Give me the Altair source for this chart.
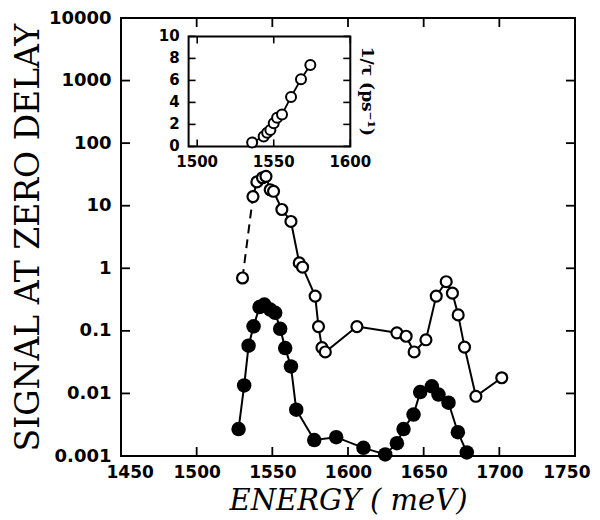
import altair as alt
import pandas as pd

# ---------------- data ----------------
energy_open = [1530.3, 1537.2, 1539.8, 1543.5, 1545.8, 1548.6, 1550.8, 1556.3, 1562.3,
               1567.8, 1570.0, 1578.3, 1580.5, 1582.8, 1585.0, 1605.9, 1632.3, 1638.4,
               1643.7, 1651.5, 1658.3, 1664.9, 1669.0, 1672.8, 1677.0, 1684.5, 1701.6]
signal_open = [0.70, 14.0, 24.0, 28.0, 29.5, 18.0, 17.0, 8.7, 5.6,
               1.22, 1.04, 0.36, 0.117, 0.054, 0.046, 0.117, 0.093, 0.082,
               0.046, 0.072, 0.36, 0.61, 0.40, 0.18, 0.055, 0.009, 0.0178]

energy_filled = [1527.7, 1531.4, 1534.3, 1537.6, 1541.5, 1544.7, 1548.6, 1551.9, 1555.2,
                 1558.5, 1562.3, 1565.8, 1577.7, 1592.2, 1610.2, 1624.6, 1632.3, 1636.7,
                 1643.3, 1647.7, 1655.4, 1659.8, 1666.4, 1672.6, 1678.5]
signal_filled = [0.0027, 0.0134, 0.058, 0.118, 0.24, 0.263, 0.219, 0.194, 0.108,
                 0.053, 0.027, 0.0055, 0.0018, 0.002, 0.00135, 0.00106, 0.0016, 0.0027,
                 0.0046, 0.0105, 0.013, 0.0096, 0.0071, 0.0024, 0.00114]

inset_energy = [1535.9, 1543.4, 1545.7, 1547.8, 1550.0, 1552.2, 1555.4, 1561.3, 1567.8, 1573.9]
inset_rate = [0.36, 0.9, 1.25, 1.5, 2.1, 2.6, 2.9, 4.5, 6.1, 7.4]

x_ticks = [1450, 1500, 1550, 1600, 1650, 1700, 1750]
y_ticks = [0.001, 0.01, 0.1, 1, 10, 100, 1000, 10000]
inset_x_ticks = [1500, 1550, 1600]
inset_y_ticks = [0, 2, 4, 6, 8, 10]
inset_x_domain = [1494.4, 1600]

# ---------------- layout ----------------
W, H = 454, 438
TK = 9            # main tick length, px
ITK = 7           # inset tick length, px
INSET_X_RANGE = [67.6, 229.3]
INSET_Y_RANGE = [128.4, 18.4]
LABEL_FONT = "DejaVu Sans"
TITLE_FONT = "DejaVu Serif"

xs = alt.Scale(domain=[x_ticks[0], x_ticks[-1]], nice=False, zero=False)
ys = alt.Scale(type="log", domain=[y_ticks[0], y_ticks[-1]], nice=False)

x_axis = alt.Axis(values=x_ticks, ticks=False, domain=False, grid=False, format="d",
                  labelFlush=True, labelFlushOffset=15, labelOverlap=False,
                  labelFont=LABEL_FONT, labelFontWeight="bold", labelFontSize=17,
                  labelColor="black", labelPadding=8,
                  title="ENERGY ( meV)", titleFont=TITLE_FONT, titleFontStyle="italic",
                  titleFontWeight="normal", titleFontSize=29, titleColor="black",
                  titleBaseline="alphabetic", titleY=53)
y_axis = alt.Axis(values=y_ticks, ticks=False, domain=False, grid=False, format="~g",
                  labelFlush=False, labelOverlap=False,
                  labelFont=LABEL_FONT, labelFontWeight="bold", labelFontSize=18,
                  labelColor="black", labelPadding=10,
                  title="SIGNAL AT ZERO DELAY", titleFont=TITLE_FONT,
                  titleFontWeight="normal", titleFontSize=33, titleColor="black",
                  titlePadding=3)

df_open = pd.DataFrame({"E": energy_open, "S": signal_open})
df_fill = pd.DataFrame({"E": energy_filled, "S": signal_filled})
df_ins = pd.DataFrame({"E": inset_energy, "R": inset_rate})

enc_x = alt.X("E:Q", scale=xs, axis=x_axis)
enc_y = alt.Y("S:Q", scale=ys, axis=y_axis)

# ---------------- inward frame ticks as short two-point line segments ----------------
# tick length converted from pixels to data units of each scale
dx_main = TK * (x_ticks[-1] - x_ticks[0]) / W
fy_main = 10 ** (TK * 7 / H)          # 7 decades over the plot height
rows = []
for i, v in enumerate(x_ticks):
    rows += [{"E": v, "S": y_ticks[0], "k": f"b{i}"}, {"E": v, "S": y_ticks[0] * fy_main, "k": f"b{i}"},
             {"E": v, "S": y_ticks[-1], "k": f"t{i}"}, {"E": v, "S": y_ticks[-1] / fy_main, "k": f"t{i}"}]
for i, v in enumerate(y_ticks):
    rows += [{"E": x_ticks[0], "S": v, "k": f"l{i}"}, {"E": x_ticks[0] + dx_main, "S": v, "k": f"l{i}"},
             {"E": x_ticks[-1], "S": v, "k": f"r{i}"}, {"E": x_ticks[-1] - dx_main, "S": v, "k": f"r{i}"}]
df_main_ticks = pd.DataFrame(rows)
main_ticks = alt.Chart(df_main_ticks).mark_line(color="black", strokeWidth=1.8).encode(
    x=enc_x, y=enc_y, detail="k:N")

open_dash = alt.Chart(df_open.iloc[:2]).mark_line(
    color="black", strokeWidth=2, strokeDash=[9, 6]).encode(x=enc_x, y=enc_y)
open_line = alt.Chart(df_open.iloc[1:]).mark_line(
    color="black", strokeWidth=2).encode(x=enc_x, y=enc_y)
open_pts = alt.Chart(df_open).mark_point(
    shape="circle", fill="white", stroke="black", strokeWidth=2.2, size=120,
    opacity=1, fillOpacity=1).encode(x=enc_x, y=enc_y)
fill_line = alt.Chart(df_fill).mark_line(
    color="black", strokeWidth=2).encode(x=enc_x, y=enc_y)
fill_pts = alt.Chart(df_fill).mark_circle(
    color="black", size=210, opacity=1).encode(x=enc_x, y=enc_y)

main = alt.layer(open_dash, open_line, fill_line, open_pts, fill_pts, main_ticks)

# ---------------- inset ----------------
ixs = alt.Scale(domain=inset_x_domain, range=INSET_X_RANGE, nice=False, zero=False)
iys = alt.Scale(domain=[inset_y_ticks[0], inset_y_ticks[-1]], range=INSET_Y_RANGE,
                nice=False, zero=False)
IX = alt.X("E:Q", scale=ixs, axis=None)
IY = alt.Y("R:Q", scale=iys, axis=None)

df_box = pd.DataFrame({"x0": [inset_x_domain[0]], "x1": [inset_x_domain[-1]],
                       "y0": [inset_y_ticks[0]], "y1": [inset_y_ticks[-1]],
                       "ym": [(inset_y_ticks[0] + inset_y_ticks[-1]) / 2]})
box = alt.Chart(df_box).mark_rect(fill="white", stroke="black", strokeWidth=2).encode(
    x=alt.X("x0:Q", scale=ixs, axis=None), x2="x1:Q",
    y=alt.Y("y0:Q", scale=iys, axis=None), y2="y1:Q")

dx_in = ITK * (inset_x_domain[1] - inset_x_domain[0]) / (INSET_X_RANGE[1] - INSET_X_RANGE[0])
dy_in = ITK * (inset_y_ticks[-1] - inset_y_ticks[0]) / (INSET_Y_RANGE[0] - INSET_Y_RANGE[1])
irows = []
for i, v in enumerate(inset_y_ticks):
    irows += [{"E": inset_x_domain[0], "R": v, "k": f"l{i}"},
              {"E": inset_x_domain[0] + dx_in, "R": v, "k": f"l{i}"},
              {"E": inset_x_domain[1], "R": v, "k": f"r{i}"},
              {"E": inset_x_domain[1] - dx_in, "R": v, "k": f"r{i}"}]
for i, v in enumerate(inset_x_ticks):
    irows += [{"E": v, "R": inset_y_ticks[0], "k": f"b{i}"},
              {"E": v, "R": inset_y_ticks[0] + dy_in, "k": f"b{i}"},
              {"E": v, "R": inset_y_ticks[-1], "k": f"t{i}"},
              {"E": v, "R": inset_y_ticks[-1] - dy_in, "k": f"t{i}"}]
df_inset_ticks = pd.DataFrame(irows)
inset_ticks = alt.Chart(df_inset_ticks).mark_line(color="black", strokeWidth=1.6).encode(
    x=IX, y=IY, detail="k:N")

df_iyt = pd.DataFrame({"t": inset_y_ticks, "xl": inset_x_domain[0]})
df_ixt = pd.DataFrame({"t": inset_x_ticks, "yb": inset_y_ticks[0]})
iy_labels = alt.Chart(df_iyt).mark_text(
    align="right", baseline="middle", dx=-9, font=LABEL_FONT, fontWeight="bold",
    fontSize=15, color="black").encode(
    x=alt.X("xl:Q", scale=ixs, axis=None), y=alt.Y("t:Q", scale=iys, axis=None),
    text=alt.Text("t:Q", format="d"))
ix_labels = alt.Chart(df_ixt).mark_text(
    align="center", baseline="top", dy=9, font=LABEL_FONT, fontWeight="bold",
    fontSize=15, color="black").encode(
    x=alt.X("t:Q", scale=ixs, axis=None), y=alt.Y("yb:Q", scale=iys, axis=None),
    text=alt.Text("t:Q", format="d"))
i_title = alt.Chart(df_box).mark_text(
    angle=90, align="center", baseline="middle", dy=-17, font=TITLE_FONT,
    fontWeight="bold", fontSize=17, color="black").encode(
    x=alt.X("x1:Q", scale=ixs, axis=None), y=alt.Y("ym:Q", scale=iys, axis=None),
    text=alt.value("1/τ (ps⁻¹)"))

i_line = alt.Chart(df_ins).mark_line(color="black", strokeWidth=1.8).encode(x=IX, y=IY)
i_pts = alt.Chart(df_ins).mark_point(
    shape="circle", fill="white", stroke="black", strokeWidth=2, size=100,
    opacity=1, fillOpacity=1).encode(x=IX, y=IY)

inset = alt.layer(box, inset_ticks, iy_labels, ix_labels, i_title, i_line, i_pts)

chart = alt.layer(main, inset).resolve_scale(
    x="independent", y="independent").properties(
    width=W, height=H,
    autosize=alt.AutoSizeParams(type="none"),
    padding={"left": 113, "top": 10, "right": 17, "bottom": 60},
    background="white",
).configure_view(stroke="black", strokeWidth=2)

chart.save("out.html", embed_options={"renderer": "svg", "actions": False})
